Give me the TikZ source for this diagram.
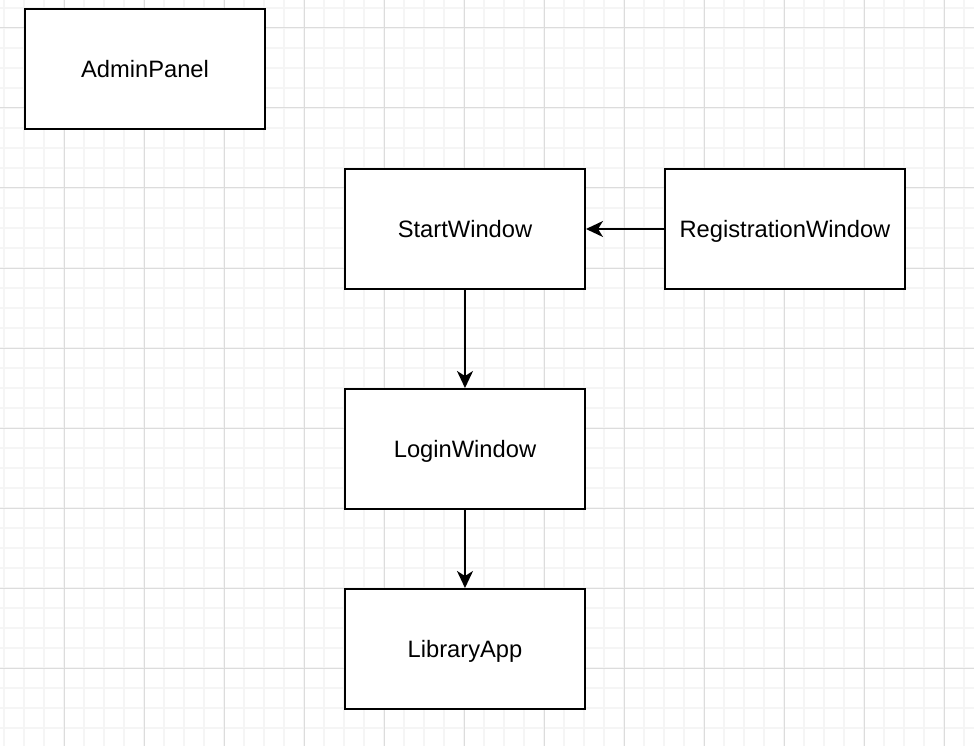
\documentclass[tikz,border=0pt]{standalone}
\usepackage{fontspec}
\setmainfont{Liberation Sans}
\usetikzlibrary{arrows.meta}
\definecolor{gridminor}{HTML}{F5F5F5}
\definecolor{gridmajor}{HTML}{DCDCDC}
\tikzset{
  box/.style={draw=black, line width=2pt, fill=white, minimum width=240pt, minimum height=120pt, inner sep=0pt, text depth=0pt, font=\fontsize{23.7}{28}\selectfont},
  conn/.style={line width=2pt, -{Stealth[length=17pt,width=16pt,inset=5pt]}},
}
\begin{document}
\begin{tikzpicture}[x=1pt,y=-1pt]
\useasboundingbox (0,0) rectangle (974,746);
\fill[white] (0,0) rectangle (974,746);
% minor grid
\foreach \x in {4,24,...,964} \draw[gridminor, line width=1.5pt] (\x,0) -- (\x,746);
\foreach \y in {8,28,...,744} \draw[gridminor, line width=1.5pt] (0,\y) -- (974,\y);
% major grid
\foreach \x in {64,144,...,944} \draw[gridmajor, line width=1pt] (\x,0) -- (\x,746);
\foreach \y in {28,108,...,668} \draw[gridmajor, line width=1pt] (0,\y) -- (974,\y);
% nodes
\node[box] (admin) at (145,69) {AdminPanel};
\node[box] (start) at (465,229) {StartWindow};
\node[box] (reg) at (785,229) {RegistrationWindow};
\node[box] (login) at (465,449) {LoginWindow};
\node[box] (lib) at (465,649) {LibraryApp};
% connectors
\draw[conn] (reg) -- (start);
\draw[conn] (start) -- (login);
\draw[conn] (login) -- (lib);
\end{tikzpicture}
\end{document}
